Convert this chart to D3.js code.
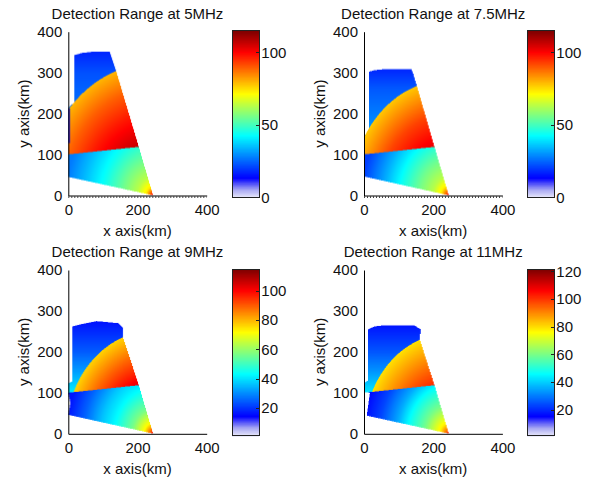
<!DOCTYPE html>
<html>
<head>
<meta charset="utf-8">
<script src="https://cdn.jsdelivr.net/npm/d3@7"></script>
<style>
  body { margin: 0; background: #fff; }
  svg text { font-family: "Liberation Sans", Arial, sans-serif; fill: #111; }
</style>
</head>
<body>
<svg id="chart" width="595" height="480"></svg>
<script>
const titles=["Detection Range at 5MHz","Detection Range at 7.5MHz","Detection Range at 9MHz","Detection Range at 11MHz"];
const axisTicksX=[0,200,400];
const axisTicksY=[0,100,200,300,400];
const barTicks=[[0,50,100],[0,50,100],[20,40,60,80,100],[20,40,60,80,100,120]];
const valueRange=[[0,115],[0,115],[1,115],[1.3,121.7]];

// radar site and the line that splits the near and far zones (km)
const source=[245,0];
const baseline=[[0,100],[205,118.5]];
// radius (km) of the arc between the orange zone and the blue zone
const arcRadius=[322,283,251,244];

// outline of the coloured area in each panel (km)
const coverage=[
    [[245,0],[0,45],[0,214],[18,228],[18,343],[40,348],[70,351],[120,351],[139,302],[204,118]],
    [[245,0],[0,46],[0,143],[14,163],[14,302],[30,306],[55,308],[137,308],[142,298],[153,267],[204,118]],
    [[245,0],[0,46],[6,75],[0,99],[0,123],[12,128],[12,262],[40,268],[82,275],[144,270],[158,259],[158,236],[204,118]],
    [[245,0],[8,44],[17,100],[0,101],[0,124],[12,130],[12,255],[30,262],[51,264],[146,264],[164,255],[161,231],[204,118]]
];
// thin dark-blue strip on the left edge of the 5MHz panel (km) and its value
const edgeStrip=[[0,128],[4,128],[4,212],[0,212]];
const edgeStripValue=14;

// near zone: [distance from site (km), value]
const lowerStops=[
    [[0,104],[8,90],[20,74],[45,64],[90,55],[140,45],[190,37],[250,28]],
    [[0,104],[8,90],[22,74],[45,64],[90,55],[140,44],[190,33],[250,21]],
    [[0,104],[8,90],[25,73],[60,57],[110,44],[150,37],[200,26],[250,17]],
    [[0,108],[8,94],[25,78],[70,60],[120,46],[150,36],[200,24],[245,17]]
];
// orange zone: [distance from site (km), value]
const middleStops=[
    [[125,107],[200,98],[260,90],[322,80]],
    [[125,103],[200,93],[283,78]],
    [[125,103],[190,90],[251,77]],
    [[125,102],[190,90],[244,80]]
];
// blue zone: [y (km), value]
const upperStops=[
    [[200,27],[260,25],[300,23],[350,18]],
    [[140,33],[200,28],[260,24],[310,18]],
    [[100,42],[150,33],[200,25],[270,17]],
    [[100,44],[150,34],[200,26],[265,18]]
];

// layout
const panels=[
    {left:68.3, top:31.7, bar:232.3},
    {left:364, top:31.7, bar:527.3},
    {left:68.3, top:270, bar:232.3},
    {left:364, top:270, bar:527.3}
];
const plotW=138.4, plotH=163.8, barW=27, barH=166.6;
const fontSize=15;

// jet with a pale bottom end
const cmap=d3.scaleLinear()
    .domain([0,0.05,0.12,0.375,0.625,0.875,1])
    .range(["#eeeefb","#a8a8f2","#0000ff","#00ffff","#ffff00","#ff0000","#800000"])
    .clamp(true);
const lut=d3.range(512).map(k=>d3.rgb(cmap(k/511)));

const svg=d3.select("#chart");

titles.forEach((title,i)=>{
    const p=panels[i];
    const x=d3.scaleLinear().domain([0,400]).range([p.left,p.left+plotW]);
    const y=d3.scaleLinear().domain([0,400]).range([p.top+plotH,p.top]);
    const g=svg.append("g");

    drawField(g,i,x,y);

    const xAxis=g.append("g")
        .attr("transform",`translate(0,${y(0)})`)
        .call(d3.axisBottom(x).tickValues(axisTicksX).tickSize(0).tickPadding(9));
    const yAxis=g.append("g")
        .attr("transform",`translate(${x(0)},0)`)
        .call(d3.axisLeft(y).tickValues(axisTicksY).tickSize(0).tickPadding(6));
    [xAxis,yAxis].forEach(a=>{
        a.attr("font-family",null).attr("font-size",fontSize);
        a.select(".domain").attr("stroke","#000");
    });

    // small ticks under the x axis of the top row
    if (i<2) {
        g.append("line")
            .attr("x1",x(0)).attr("x2",x(400))
            .attr("y1",y(0)+1.5).attr("y2",y(0)+1.5)
            .attr("stroke","#444").attr("stroke-width",2)
            .attr("stroke-dasharray","1 2");
    }

    g.append("text")
        .attr("x",(x(0)+x(400))/2).attr("y",p.top-13)
        .attr("text-anchor","middle").attr("font-size",fontSize)
        .text(title);
    g.append("text")
        .attr("x",(x(0)+x(400))/2).attr("y",y(0)+40)
        .attr("text-anchor","middle").attr("font-size",fontSize)
        .text("x axis(km)");
    g.append("text")
        .attr("transform",`translate(${p.left-39},${(y(0)+y(400))/2}) rotate(-90)`)
        .attr("text-anchor","middle").attr("font-size",fontSize)
        .text("y axis(km)");

    drawColorbar(g,i,p);
});

function stopScale(stops) {
    return d3.scaleLinear()
        .domain(stops.map(s=>s[0]))
        .range(stops.map(s=>s[1]))
        .clamp(true);
}

function drawField(g,i,x,y) {
    const k=2;
    const w=Math.round(plotW*k), h=Math.round(plotH*k);
    const canvas=document.createElement("canvas");
    canvas.width=w; canvas.height=h;
    const ctx=canvas.getContext("2d");
    const img=ctx.createImageData(w,h);

    const lower=stopScale(lowerStops[i]);
    const middle=stopScale(middleStops[i]);
    const upper=stopScale(upperStops[i]);
    const toIndex=d3.scaleLinear().domain(valueRange[i]).range([0,511]).clamp(true);
    const [[bx0,by0],[bx1,by1]]=baseline;
    const x0=x.range()[0], y0=y.range()[1];

    for (let r=0; r<h; r++) {
        const ky=y.invert(y0+(r+0.5)/k);
        for (let c=0; c<w; c++) {
            const kx=x.invert(x0+(c+0.5)/k);
            if (!d3.polygonContains(coverage[i],[kx,ky])) continue;
            const d=Math.hypot(kx-source[0],ky-source[1]);
            const yb=by0+(kx-bx0)*(by1-by0)/(bx1-bx0);
            let v;
            if (i===0 && d3.polygonContains(edgeStrip,[kx,ky])) v=edgeStripValue;
            else if (ky<yb) v=lower(d);
            else if (d<arcRadius[i]) v=middle(d);
            else v=upper(ky);
            const col=lut[Math.round(toIndex(v))];
            const o=(r*w+c)*4;
            img.data[o]=col.r; img.data[o+1]=col.g; img.data[o+2]=col.b; img.data[o+3]=255;
        }
    }
    ctx.putImageData(img,0,0);
    g.append("image")
        .attr("x",x0).attr("y",y0)
        .attr("width",plotW).attr("height",plotH)
        .attr("preserveAspectRatio","none")
        .attr("href",canvas.toDataURL());
}

function drawColorbar(g,i,p) {
    const [vMin,vMax]=valueRange[i];
    const top=p.top-1;
    const barY=d3.scaleLinear().domain([vMin,vMax]).range([top+barH,top]);
    const step=0.25;
    const cells=d3.range(vMin,vMax,step);
    const bar=g.append("g").attr("shape-rendering","crispEdges");
    bar.selectAll("rect").data(cells).join("rect")
        .attr("x",p.bar).attr("width",barW)
        .attr("y",v=>barY(Math.min(v+step,vMax)))
        .attr("height",v=>barY(v)-barY(Math.min(v+step,vMax))+1)
        .attr("fill",v=>cmap((v+step/2-vMin)/(vMax-vMin)));
    bar.append("rect")
        .attr("x",p.bar).attr("y",top)
        .attr("width",barW).attr("height",barH)
        .attr("fill","none").attr("stroke","#222");
    const ax=bar.append("g")
        .attr("transform",`translate(${p.bar+barW},0)`)
        .call(d3.axisRight(barY).tickValues(barTicks[i]).tickSize(-3).tickSizeOuter(0).tickPadding(2));
    ax.attr("font-family",null).attr("font-size",fontSize).attr("shape-rendering",null);
    ax.select(".domain").remove();
    ax.selectAll(".tick line").attr("stroke","#222");
}
</script>
</body>
</html>
